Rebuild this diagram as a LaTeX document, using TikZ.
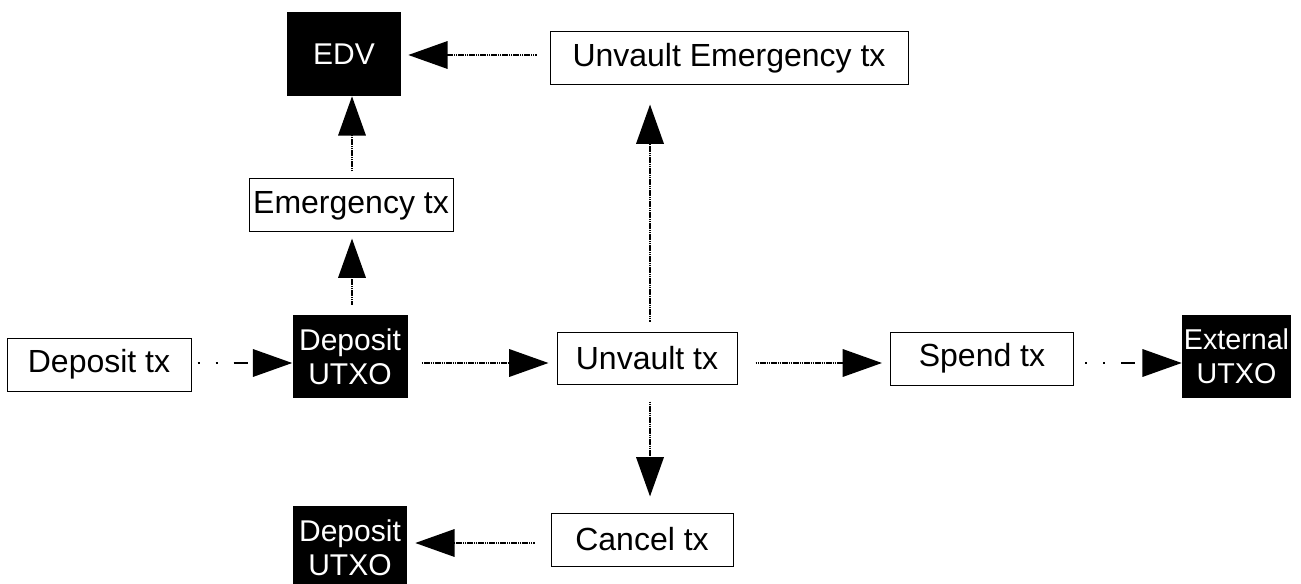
\documentclass[tikz,border=0pt]{standalone}
\usepackage{fontspec}
\setmainfont{Liberation Sans}
\usetikzlibrary{arrows.meta,calc}
\tikzset{
  tx/.style={draw, line width=0.75pt, inner sep=0pt,
    font=\fontsize{24}{28}\selectfont},
  utxo/.style={fill=black, text=white, align=center, inner sep=0pt,
    font=\fontsize{22.5}{25.5}\selectfont},
  flow/.style={line width=1.8pt, dash pattern=on 1.2pt off 0.45pt,
    -{Triangle[length=29.5pt,width=20.5pt]}},
  fund/.style={line width=1.8pt,
    dash pattern=on 1.8pt off 11.7pt on 1.8pt off 11.7pt on 10.5pt off 10pt,
    -{Triangle[length=29.5pt,width=20.5pt]}}
}

\begin{document}
\begin{tikzpicture}[x=0.75pt, y=-0.75pt]
			%%%%% START %%%%%
			
			\useasboundingbox (0, 0) rectangle (1301, 584);
			
			\coordinate (toprow) at (0, 55);
			\coordinate (mainrow) at (0, 363);
			\coordinate (botrow) at (0, 543);
			\coordinate (leftcol) at (352, 0);
			\coordinate (midcol) at (650, 0);
			
			\node[tx, minimum width=138pt, minimum height=39.75pt] (deptx) at (99, 364.5) {Deposit tx};
			\node[utxo, minimum width=86.25pt, minimum height=62.25pt] (dutxo) at (350, 356.5) {Deposit\\UTXO};
			\node[tx, minimum width=135pt, minimum height=39pt] (unvtx) at (647, 358) {Unvault tx};
			\node[tx, minimum width=137.25pt, minimum height=39.75pt] (spendtx) at (982, 358.5) {Spend tx};
			\node[utxo, minimum width=81.75pt, minimum height=62.25pt, font=\fontsize{21.5}{25.5}\selectfont] (extutxo) at (1236.5, 356.5) {External\\UTXO};
			
			\node[tx, minimum width=153pt, minimum height=39.75pt] (emergtx) at (351, 205.5) {Emergency tx};
			\node[utxo, minimum width=85.5pt, minimum height=63pt] (edv) at (344, 54) {EDV};
			\node[tx, minimum width=268.5pt, minimum height=39.75pt] (unvemerg) at (729, 58.5) {Unvault Emergency tx};
			
			\node[tx, minimum width=136.5pt, minimum height=39.75pt] (canceltx) at (642, 539.5) {Cancel tx};
			\node[utxo, minimum width=85.5pt, minimum height=62.25pt] (dutxob) at (350, 547.5) {Deposit\\UTXO};
			
			\draw[fund, shorten <=4.5pt] (deptx.east |- mainrow) -- (dutxo.west |- mainrow);
			\draw[flow, shorten <=10.5pt, shorten >=6pt] (dutxo.east |- mainrow) -- (unvtx.west |- mainrow);
			\draw[flow, shorten <=13.5pt, shorten >=6pt] (unvtx.east |- mainrow) -- (spendtx.west |- mainrow);
			\draw[fund, shorten <=8.25pt] (spendtx.east |- mainrow) -- (extutxo.west |- mainrow);
			
			\draw[flow, shorten <=7.5pt, shorten >=4.5pt] (leftcol |- dutxo.north) -- (leftcol |- emergtx.south);
			\draw[flow, shorten <=5.25pt] (leftcol |- emergtx.north) -- (leftcol |- edv.south);
			\draw[flow, shorten <=9.75pt, shorten >=5.25pt] (unvemerg.west |- toprow) -- (edv.east |- toprow);
			
			\draw[flow, shorten <=7.5pt, shorten >=14.25pt] (midcol |- unvtx.north) -- (midcol |- unvemerg.south);
			\draw[flow, shorten <=12.75pt, shorten >=12pt] (midcol |- unvtx.south) -- (midcol |- canceltx.north);
			\draw[flow, shorten <=12pt, shorten >=6pt] (canceltx.west |- botrow) -- (dutxob.east |- botrow);
			
			%%%%% END %%%%%
		\end{tikzpicture}
\end{document}
